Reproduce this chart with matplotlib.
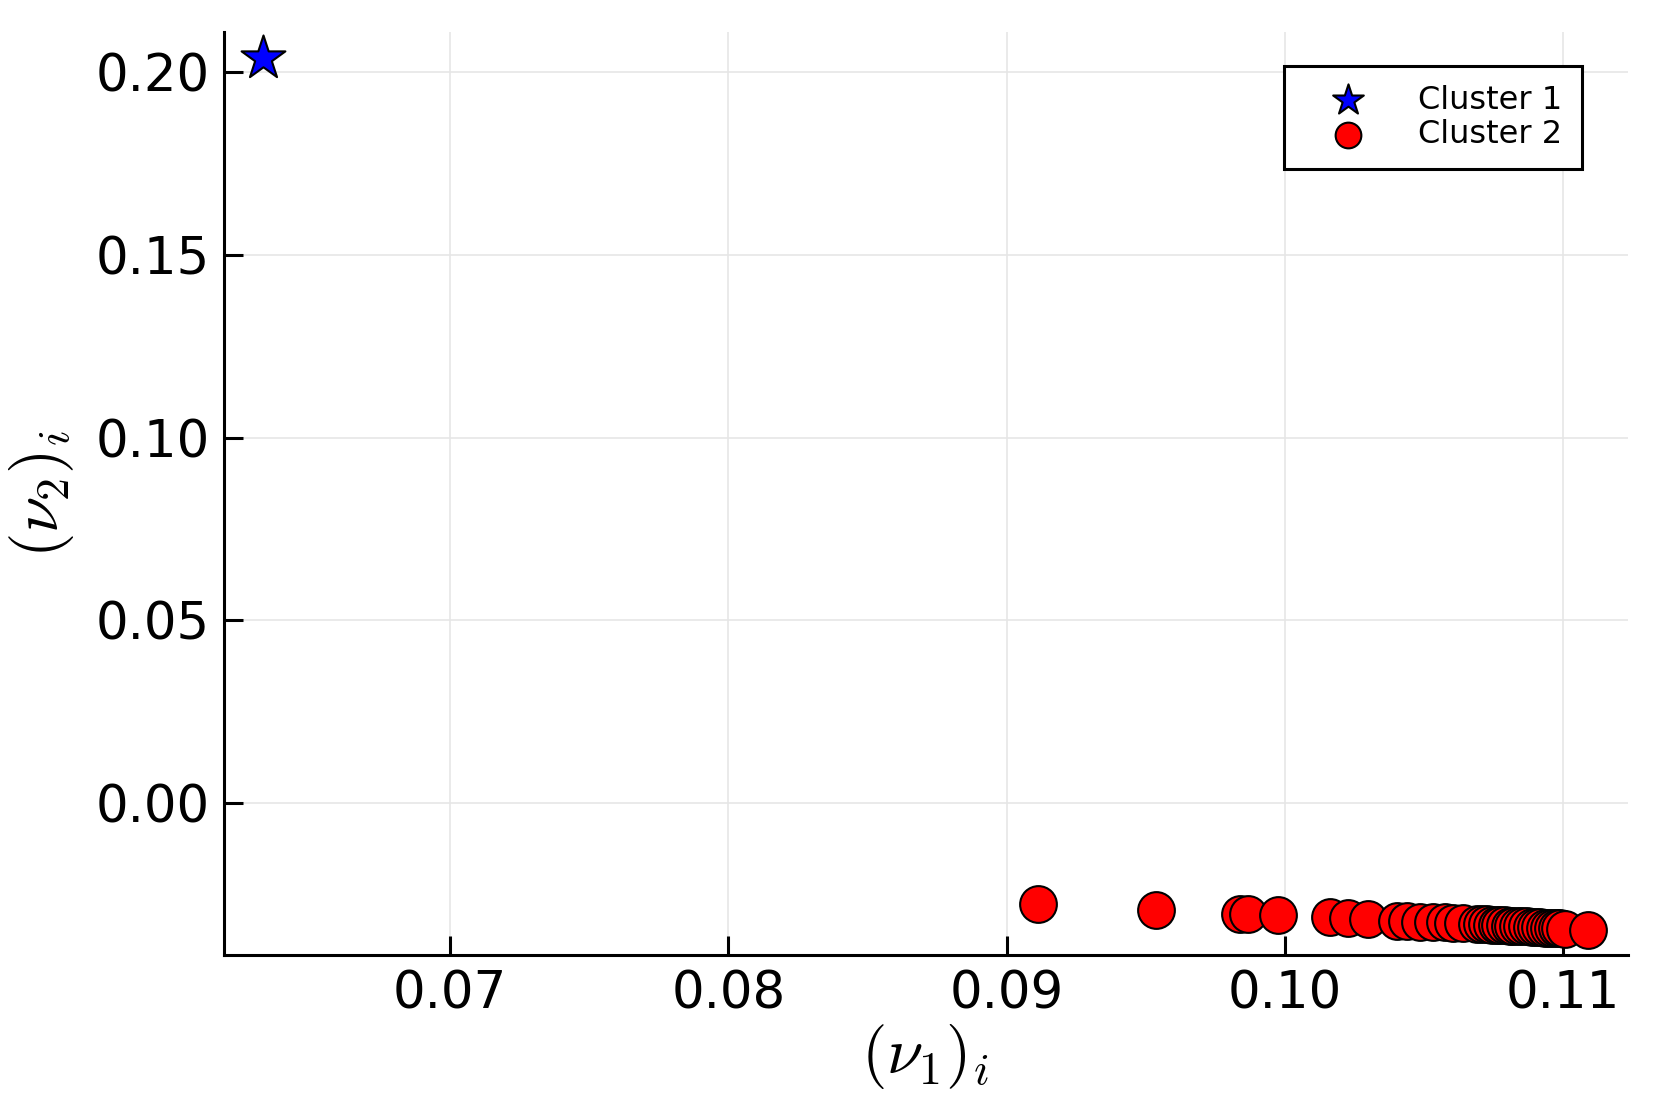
import numpy as np
from matplotlib import pyplot as plt

plt.rcParams['mathtext.fontset'] = 'cm'
plt.rcParams['font.family'] = 'DejaVu Sans'

# cluster 1 (single outlier)
c1_x = [0.06326]
c1_y = [0.2038]

# cluster 2
c2_x = [0.09112, 0.09536, 0.09838, 0.09867, 0.09975, 0.10162, 0.10226, 0.10298,
        0.10402, 0.10438, 0.10485, 0.10532, 0.10575, 0.10604, 0.10640,
        0.10690, 0.10708, 0.10726, 0.10744, 0.10762, 0.10773, 0.10791, 0.10808,
        0.10819, 0.10837, 0.10852, 0.10870, 0.10888, 0.10902, 0.10916, 0.10934,
        0.10949, 0.10963, 0.10977, 0.10988, 0.11006, 0.11089]
c2_y = [-0.0276, -0.0293, -0.0304, -0.0304, -0.0307, -0.0312, -0.0314, -0.0318,
        -0.0322, -0.0323, -0.0325, -0.0326, -0.0327, -0.0328, -0.0329,
        -0.0331, -0.0332, -0.0332, -0.0333, -0.0334, -0.0334, -0.0335, -0.0336,
        -0.0336, -0.0337, -0.0337, -0.0338, -0.0339, -0.0339, -0.0340, -0.0341,
        -0.0341, -0.0342, -0.0342, -0.0343, -0.0344, -0.0348]

fig = plt.figure(figsize=(16.61, 11.07), dpi=100)
ax = fig.add_axes([0.1346, 0.1369, 0.8454, 0.8341])

ax.scatter(c1_x, c1_y, marker='*', s=1100, c='blue', edgecolors='black',
           linewidths=1.5, label='Cluster 1', zorder=3)
ax.scatter(c2_x, c2_y, marker='o', s=700, c='red', edgecolors='black',
           linewidths=1.5, label='Cluster 2', zorder=3)

ax.set_xlim(0.06186, 0.11232)
ax.set_ylim(-0.04174, 0.2110)
ax.set_xticks([0.07, 0.08, 0.09, 0.10, 0.11])
ax.set_yticks([0.00, 0.05, 0.10, 0.15, 0.20])
ax.set_xticklabels(['0.07', '0.08', '0.09', '0.10', '0.11'])
ax.set_yticklabels(['0.00', '0.05', '0.10', '0.15', '0.20'])

ax.grid(True, color='#e6e6e6', linewidth=1.2)
ax.set_axisbelow(True)
for s in ['top', 'right']:
    ax.spines[s].set_visible(False)
for s in ['left', 'bottom']:
    ax.spines[s].set_linewidth(2.2)
ax.tick_params(direction='in', length=14, width=2.2, labelsize=37, pad=10)

ax.set_xlabel(r'$(\nu_1)_i$', fontsize=47, labelpad=2)
ax.set_ylabel(r'$(\nu_2)_i$', fontsize=47, labelpad=14)

leg = ax.legend(loc='upper right', fontsize=23, fancybox=False, edgecolor='black',
                framealpha=1, borderpad=0.6, handletextpad=0.8, handlelength=2.8,
                labelspacing=0.1, markerscale=0.7, bbox_to_anchor=(0.9785, 0.981))
leg.get_frame().set_linewidth(2.2)

fig.savefig('out.png', dpi=100)
